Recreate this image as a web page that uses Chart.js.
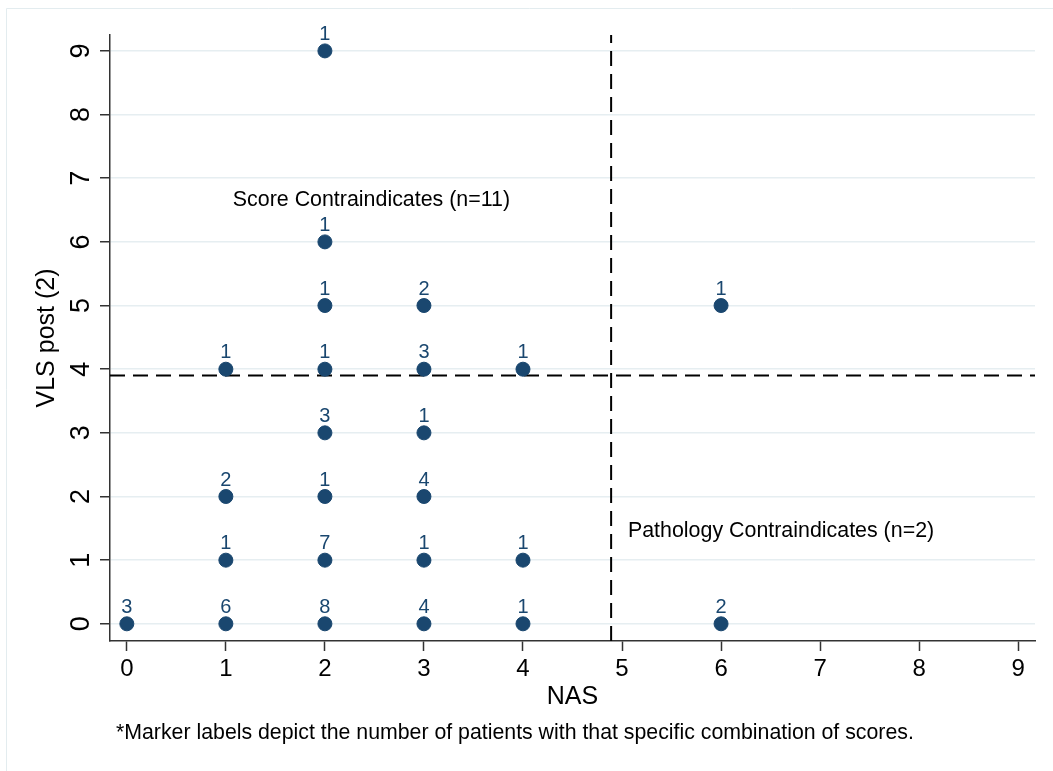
<!DOCTYPE html>
<html>
<head>
<meta charset="utf-8">
<script src="https://cdn.jsdelivr.net/npm/chart.js@4.4.1/dist/chart.umd.min.js"></script>
<style>
  html, body { margin: 0; padding: 0; background: #fff; }
  #wrap { width: 1053px; height: 771px; }
</style>
</head>
<body>
<div id="wrap"><canvas id="scatter" width="1053" height="771"></canvas></div>
<script>
// NAS score (x), VLS post (2) score (y) and number of patients at each combination
const nas    = [0, 1, 1, 1, 1, 2, 2, 2, 2, 2, 2, 2, 2, 3, 3, 3, 3, 3, 3, 4, 4, 4, 6, 6];
const vls    = [0, 0, 1, 2, 4, 0, 1, 2, 3, 4, 5, 6, 9, 0, 1, 2, 3, 4, 5, 0, 1, 4, 0, 5];
const counts = [3, 6, 1, 2, 1, 8, 7, 1, 3, 1, 1, 1, 1, 4, 1, 4, 1, 3, 2, 1, 1, 1, 2, 1];

// cut-off lines
const nasCut = 4.89;
const vlsCut = 3.9;

// tick labels
const xTicks = [0, 1, 2, 3, 4, 5, 6, 7, 8, 9];
const yTicks = [0, 1, 2, 3, 4, 5, 6, 7, 8, 9];

// axis ranges
const xMin = -0.17, xMax = 9.17;
const yMin = -0.27, yMax = 9.25;

// text notes in the plot (data coordinates)
const noteText = ['Score Contraindicates (n=11)', 'Pathology Contraindicates (n=2)'];
const noteX = [1.07, 5.06];
const noteY = [6.66, 1.46];

const footnote = '*Marker labels depict the number of patients with that specific combination of scores.';

const navy = '#1a476f';
const font = '"Liberation Sans", Arial, Helvetica, sans-serif';

const extras = {
    id: 'extras',
    beforeDraw(chart) {
        const ctx = chart.ctx;
        ctx.save();
        ctx.fillStyle = '#fff';
        ctx.fillRect(0, 0, chart.width, chart.height);
        // faint graph region frame
        ctx.strokeStyle = '#e3ecef';
        ctx.lineWidth = 1;
        ctx.beginPath();
        ctx.moveTo(6.5, chart.height);
        ctx.lineTo(6.5, 8.5);
        ctx.lineTo(chart.width, 8.5);
        ctx.stroke();
        ctx.restore();
    },
    afterDatasetsDraw(chart) {
        const ctx = chart.ctx;
        const xs = chart.scales.x, ys = chart.scales.y;
        ctx.save();

        // marker labels
        ctx.fillStyle = navy;
        ctx.font = '20px ' + font;
        ctx.textAlign = 'center';
        ctx.textBaseline = 'alphabetic';
        chart.getDatasetMeta(0).data.forEach(function(pt, i) {
            ctx.fillText(String(counts[i]), pt.x, pt.y - 11);
        });

        // rotated y tick labels
        ctx.fillStyle = '#000';
        ctx.font = '27px ' + font;
        ctx.textBaseline = 'middle';
        ys.ticks.forEach(function(t) {
            const py = ys.getPixelForValue(t.value);
            ctx.save();
            ctx.translate(ys.right - 29, py);
            ctx.rotate(-Math.PI / 2);
            ctx.fillText(String(t.value), 0, 1);
            ctx.restore();
        });

        // notes
        ctx.font = '21.4px ' + font;
        ctx.textAlign = 'left';
        noteText.forEach(function(txt, i) {
            ctx.fillText(txt, xs.getPixelForValue(noteX[i]), ys.getPixelForValue(noteY[i]));
        });

        // footnote
        ctx.font = '21.3px ' + font;
        ctx.fillText(footnote, 116, 733);
        ctx.restore();
    }
};

const ctx = document.getElementById('scatter').getContext('2d');

const myChart = new Chart(ctx, {
    type: 'scatter',
    data: {
        datasets: [
            {
                data: nas.map((x, i) => ({ x: x, y: vls[i] })),
                backgroundColor: navy,
                borderColor: navy,
                pointRadius: 7,
                pointHoverRadius: 7,
                order: 0
            },
            {
                type: 'line',
                data: [{ x: nasCut, y: yMin }, { x: nasCut, y: yMax }],
                borderColor: '#000',
                borderWidth: 2,
                borderDash: [15, 8],
                pointRadius: 0,
                order: 1
            },
            {
                type: 'line',
                data: [{ x: xMin, y: vlsCut }, { x: xMax, y: vlsCut }],
                borderColor: '#000',
                borderWidth: 2,
                borderDash: [15, 8],
                pointRadius: 0,
                order: 1
            }
        ]
    },
    options: {
        responsive: false,
        animation: false,
        layout: { padding: { left: 0, right: 18, top: 35, bottom: 0 } },
        plugins: {
            legend: { display: false },
            tooltip: { enabled: false }
        },
        scales: {
            x: {
                type: 'linear',
                min: xMin,
                max: xMax,
                afterBuildTicks: s => { s.ticks = xTicks.map(v => ({ value: v })); },
                afterFit: s => { s.height = 130; },
                grid: {
                    drawOnChartArea: false,
                    tickLength: 10,
                    tickColor: '#333',
                    tickWidth: 1.5
                },
                border: { color: '#333', width: 1.5 },
                ticks: {
                    color: '#000',
                    font: { family: font, size: 24 },
                    padding: 4,
                    maxRotation: 0
                },
                title: {
                    display: true,
                    text: 'NAS',
                    color: '#000',
                    font: { family: font, size: 25 },
                    padding: { top: 0, bottom: 59 }
                }
            },
            y: {
                type: 'linear',
                min: yMin,
                max: yMax,
                afterBuildTicks: s => { s.ticks = yTicks.map(v => ({ value: v })); },
                afterFit: s => { s.width = 110; },
                grid: {
                    color: '#e6eef1',
                    lineWidth: 1.5,
                    tickLength: 10,
                    tickColor: '#333',
                    tickWidth: 1.5
                },
                border: { color: '#333', width: 1.5 },
                ticks: { display: false },
                title: {
                    display: true,
                    text: 'VLS post (2)',
                    color: '#000',
                    font: { family: font, size: 25 },
                    padding: { top: 32, bottom: 32 }
                }
            }
        }
    },
    plugins: [extras]
});
</script>
</body>
</html>
